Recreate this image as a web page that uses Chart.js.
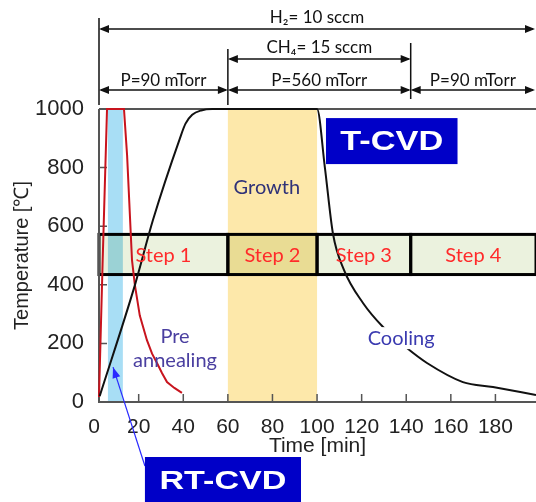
<!DOCTYPE html>
<html>
<head>
<meta charset="utf-8">
<script src="https://cdn.jsdelivr.net/npm/chart.js@4.4.1/dist/chart.umd.min.js"></script>
<style>
  html, body { margin: 0; padding: 0; background: #fff; }
  #chartCanvas { display: block; }
</style>
</head>
<body>
<canvas id="chartCanvas" width="536" height="502"></canvas>
<script>
// T-CVD temperature profile (black curve)
const tcvdTime = [2.5, 18.3, 26.4, 38.5, 41, 44, 48, 53, 100, 103.5, 107.1, 112.1, 120.6, 129.6, 140.3, 149.3, 165.4, 178.9, 198.2];
const tcvdTemp = [20, 399, 621, 900, 950, 980, 995, 1000, 1000, 801, 576, 450, 338, 256, 184, 133, 68, 51, 24];

// RT-CVD temperature profile (red curve)
const rtcvdTime = [2.2, 3.8, 5.8, 13.4, 14.8, 17, 18.3, 20.5, 23.7, 26, 28.2, 30.5, 32.7, 36, 39.4];
const rtcvdTemp = [17, 470, 1000, 1000, 842, 484, 399, 295, 211, 165, 133, 98, 68, 48, 31];

const xMin = 2.2;
const xMax = 198.2;
const xTicks = [0, 20, 40, 60, 80, 100, 120, 140, 160, 180];
const yTicks = [0, 200, 400, 600, 800, 1000];

const rtcvdBand = [6.2, 12.9];
const growthBand = [60, 100];

const stepLabels = ['Step 1', 'Step 2', 'Step 3', 'Step 4'];
const stepEdges = [xMin, 60, 100, 142, xMax];
const stepTemps = [435, 572];

const gasLabels = ['H\u2082= 10 sccm', 'CH\u2084= 15 sccm'];
const gasFrom = [xMin, 60];
const gasTo = [xMax, 142];

const pressureLabels = ['P=90 mTorr', 'P=560 mTorr', 'P=90 mTorr'];
const pressureEdges = [xMin, 60, 142, xMax];

const axisFont = '"Liberation Sans", Arial, sans-serif';
const noteFont = 'Lato, "Open Sans", sans-serif';

function arrowHead(ctx, x, y, dir) {
    ctx.beginPath();
    ctx.moveTo(x, y);
    ctx.lineTo(x - dir * 10, y - 4);
    ctx.lineTo(x - dir * 10, y + 4);
    ctx.closePath();
    ctx.fill();
}

function dimArrow(ctx, x1, x2, y) {
    ctx.beginPath();
    ctx.moveTo(x1 + 2, y);
    ctx.lineTo(x2 - 2, y);
    ctx.stroke();
    arrowHead(ctx, x1, y, -1);
    arrowHead(ctx, x2, y, 1);
}

function blueLabel(ctx, text, x1, x2, y1, y2, size, textWidth) {
    ctx.fillStyle = '#0000c8';
    ctx.fillRect(x1, y1, x2 - x1, y2 - y1);
    ctx.font = 'bold ' + size + 'px ' + axisFont;
    const w = ctx.measureText(text).width;
    ctx.save();
    ctx.translate((x1 + x2) / 2, (y1 + y2) / 2);
    ctx.scale(textWidth / w, 1);
    ctx.fillStyle = '#fff';
    ctx.textAlign = 'center';
    ctx.textBaseline = 'middle';
    ctx.fillText(text, 0, 1);
    ctx.restore();
}

const decor = {
    id: 'decor',
    beforeDatasetsDraw(chart) {
        const { ctx, chartArea: a, scales: { x, y } } = chart;
        ctx.save();
        // shaded process windows
        ctx.fillStyle = 'rgb(168,222,245)';
        ctx.fillRect(x.getPixelForValue(rtcvdBand[0]), a.top, x.getPixelForValue(rtcvdBand[1]) - x.getPixelForValue(rtcvdBand[0]), a.bottom - a.top);
        ctx.fillStyle = 'rgb(253,232,170)';
        ctx.fillRect(x.getPixelForValue(growthBand[0]), a.top, x.getPixelForValue(growthBand[1]) - x.getPixelForValue(growthBand[0]), a.bottom - a.top);

        // step boxes
        const yTop = y.getPixelForValue(stepTemps[1]);
        const yBot = y.getPixelForValue(stepTemps[0]);
        ctx.globalCompositeOperation = 'multiply';
        ctx.fillStyle = 'rgb(235,242,222)';
        ctx.fillRect(a.left, yTop, a.right - a.left, yBot - yTop);
        ctx.globalCompositeOperation = 'source-over';
        ctx.strokeStyle = '#000';
        ctx.lineWidth = 3;
        for (let i = 0; i < stepLabels.length; i++) {
            const x1 = x.getPixelForValue(stepEdges[i]);
            const x2 = x.getPixelForValue(stepEdges[i + 1]);
            ctx.strokeRect(x1, yTop, x2 - x1, yBot - yTop);
        }

        // frame and inward ticks
        ctx.strokeStyle = '#555';
        ctx.lineWidth = 2;
        ctx.beginPath();
        ctx.moveTo(a.left, a.top);
        ctx.lineTo(a.right, a.top);
        ctx.moveTo(a.left, a.top);
        ctx.lineTo(a.left, a.bottom);
        ctx.lineTo(a.right, a.bottom);
        ctx.stroke();
        ctx.lineWidth = 1.5;
        ctx.beginPath();
        xTicks.forEach(v => {
            if (v <= xMin) return;
            const p = x.getPixelForValue(v);
            ctx.moveTo(p, a.bottom);
            ctx.lineTo(p, a.bottom - 8);
        });
        yTicks.slice(1, -1).forEach(v => {
            const p = y.getPixelForValue(v);
            ctx.moveTo(a.left, p);
            ctx.lineTo(a.left + 8, p);
        });
        ctx.stroke();
        ctx.restore();
    },
    afterDatasetsDraw(chart) {
        const { ctx, chartArea: a, scales: { x, y } } = chart;
        ctx.save();

        // step names
        const yMid = y.getPixelForValue((stepTemps[0] + stepTemps[1]) / 2);
        ctx.font = '20px ' + noteFont;
        ctx.textAlign = 'center';
        ctx.textBaseline = 'middle';
        ctx.fillStyle = '#ff2a2a';
        stepLabels.forEach((s, i) => {
            ctx.fillText(s, (x.getPixelForValue(stepEdges[i]) + x.getPixelForValue(stepEdges[i + 1])) / 2, yMid + 1);
        });

        // process notes
        ctx.fillStyle = '#2f3278';
        ctx.fillText('Growth', x.getPixelForValue(77.5), y.getPixelForValue(733));
        ctx.fillStyle = '#4a3fa0';
        ctx.fillText('Pre', x.getPixelForValue(36.3), y.getPixelForValue(222));
        ctx.fillText('annealing', x.getPixelForValue(36.3), y.getPixelForValue(140));
        const cx = x.getPixelForValue(137.7), cy = y.getPixelForValue(218);
        const cw = ctx.measureText('Cooling').width;
        ctx.fillStyle = '#fff';
        ctx.fillRect(cx - cw / 2 - 2, cy - 11, cw + 4, 22);
        ctx.fillStyle = '#3a3ab0';
        ctx.fillText('Cooling', cx, cy);

        // T-CVD tag
        blueLabel(ctx, 'T-CVD', x.getPixelForValue(104), x.getPixelForValue(163), y.getPixelForValue(969), y.getPixelForValue(812), 28, 103);

        // RT-CVD tag with pointer
        const bx1 = x.getPixelForValue(22.8), bx2 = x.getPixelForValue(92.8);
        const by1 = a.bottom + 55;
        const tipX = x.getPixelForValue(8.5), tipY = y.getPixelForValue(119);
        ctx.strokeStyle = '#2a2aff';
        ctx.fillStyle = '#2a2aff';
        ctx.lineWidth = 1.2;
        ctx.beginPath();
        ctx.moveTo(bx1, by1 + 9);
        ctx.lineTo(tipX, tipY);
        ctx.stroke();
        const ang = Math.atan2(tipY - (by1 + 9), tipX - bx1);
        ctx.beginPath();
        ctx.moveTo(tipX, tipY);
        ctx.lineTo(tipX - 11 * Math.cos(ang) + 4 * Math.sin(ang), tipY - 11 * Math.sin(ang) - 4 * Math.cos(ang));
        ctx.lineTo(tipX - 11 * Math.cos(ang) - 4 * Math.sin(ang), tipY - 11 * Math.sin(ang) + 4 * Math.cos(ang));
        ctx.closePath();
        ctx.fill();
        blueLabel(ctx, 'RT-CVD', bx1, bx2, by1, chart.height + 4, 25, 127);

        // gas flow and pressure ranges above the plot
        ctx.strokeStyle = '#111';
        ctx.fillStyle = '#111';
        ctx.lineWidth = 1.5;
        ctx.beginPath();
        ctx.moveTo(x.getPixelForValue(xMin), a.top - 91);
        ctx.lineTo(x.getPixelForValue(xMin), a.top - 4);
        ctx.moveTo(x.getPixelForValue(60), a.top - 60);
        ctx.lineTo(x.getPixelForValue(60), a.top - 4);
        ctx.moveTo(x.getPixelForValue(142), a.top - 66);
        ctx.lineTo(x.getPixelForValue(142), a.top - 10);
        ctx.stroke();

        const gasRows = [a.top - 80, a.top - 50];
        ctx.font = '17px ' + noteFont;
        ctx.textBaseline = 'alphabetic';
        gasLabels.forEach((g, i) => {
            const x1 = x.getPixelForValue(gasFrom[i]);
            const x2 = Math.min(x.getPixelForValue(gasTo[i]), chart.width - 1);
            dimArrow(ctx, x1, x2, gasRows[i]);
            ctx.fillText(g, (x1 + x2) / 2, gasRows[i] - 6);
        });
        const pRow = a.top - 19;
        pressureLabels.forEach((p, i) => {
            const x1 = x.getPixelForValue(pressureEdges[i]);
            const x2 = Math.min(x.getPixelForValue(pressureEdges[i + 1]), chart.width - 1);
            dimArrow(ctx, x1, x2, pRow);
            ctx.fillText(p, (x1 + x2) / 2, pRow - 4);
        });
        ctx.restore();
    }
};

const toPoints = (xs, ys) => xs.map((t, i) => ({ x: t, y: ys[i] }));

new Chart(document.getElementById('chartCanvas'), {
    type: 'line',
    data: {
        datasets: [
            {
                label: 'T-CVD',
                data: toPoints(tcvdTime, tcvdTemp),
                borderColor: '#111',
                borderWidth: 2,
                pointRadius: 0,
                cubicInterpolationMode: 'monotone',
                clip: 4
            },
            {
                label: 'RT-CVD',
                data: toPoints(rtcvdTime, rtcvdTemp),
                borderColor: '#c8141e',
                borderWidth: 2,
                pointRadius: 0,
                tension: 0,
                clip: 4
            }
        ]
    },
    options: {
        responsive: false,
        animation: false,
        layout: { padding: { top: 109, left: 0, right: 0, bottom: 0 } },
        plugins: {
            legend: { display: false },
            tooltip: { enabled: false }
        },
        scales: {
            x: {
                type: 'linear',
                min: xMin,
                max: xMax,
                afterBuildTicks: s => { s.ticks = xTicks.map(v => ({ value: v })); },
                afterFit: s => { s.height = 100; },
                grid: { display: false },
                border: { display: false },
                ticks: { padding: 5, color: '#222', autoSkip: false, maxRotation: 0, font: { family: axisFont, size: 21 }, callback: v => String(v) },
                title: { display: true, text: 'Time [min]', color: '#222', font: { family: axisFont, size: 21 }, padding: { top: 0, bottom: 43 } }
            },
            y: {
                min: 0,
                max: 1000,
                afterBuildTicks: s => { s.ticks = yTicks.map(v => ({ value: v })); },
                afterFit: s => { s.width = 99; },
                grid: { display: false },
                border: { display: false },
                ticks: { padding: 7, color: '#222', font: { family: axisFont, size: 22 }, callback: v => String(v) },
                title: { display: true, text: 'Temperature [\u2103]', color: '#222', font: { family: axisFont, size: 20 }, padding: { top: 10, bottom: 0 } }
            }
        }
    },
    plugins: [decor]
});
</script>
</body>
</html>
